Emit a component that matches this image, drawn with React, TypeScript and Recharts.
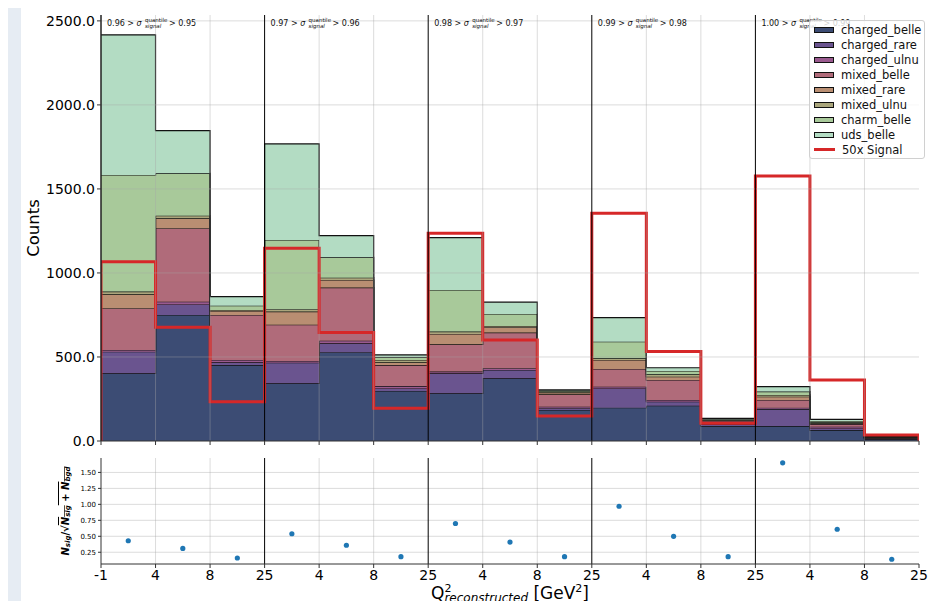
import React from 'react';
import {
    ComposedChart,
    Area,
    Line,
    Scatter,
    XAxis,
    YAxis,
    ReferenceLine,
    Legend,
    Label
} from 'recharts';

// x axis: 15 bins, 5 quantile groups of 3 Q2 bins each
const edgeLabels = ['-1', '4', '8', '25', '4', '8', '25', '4', '8', '25', '4', '8', '25', '4', '8', '25'];
const cutUpper = ['0.96', '0.97', '0.98', '0.99', '1.00'];
const cutLower = ['0.95', '0.96', '0.97', '0.98', '0.99'];

// background components, counts per bin
const chargedBelle = [403, 750, 452, 343, 528, 298, 284, 373, 185, 198, 210, 89, 89, 65, 10];
const chargedRare = [128, 63, 16, 123, 53, 15, 119, 50, 10, 115, 24, 12, 101, 10, 4];
const chargedUlnu = [11, 16, 14, 10, 16, 14, 10, 10, 9, 10, 10, 8, 8, 10, 2];
const mixedBelle = [248, 437, 268, 216, 316, 125, 162, 212, 74, 106, 119, 10, 46, 16, 4];
const mixedRare = [83, 59, 24, 78, 45, 16, 62, 32, 10, 53, 20, 3, 20, 4, 2];
const mixedUlnu = [16, 16, 6, 14, 14, 14, 14, 8, 6, 10, 14, 4, 10, 6, 2];
const charmBelle = [694, 252, 25, 412, 121, 16, 248, 71, 6, 99, 20, 4, 20, 8, 2];
const udsBelle = [834, 254, 54, 572, 129, 14, 311, 70, 4, 143, 19, 5, 29, 10, 2];

const signal50x = [1067, 677, 234, 1147, 645, 195, 1236, 601, 149, 1355, 532, 105, 1577, 363, 36];
const significance = [0.43, 0.31, 0.16, 0.54, 0.36, 0.18, 0.70, 0.41, 0.18, 0.97, 0.50, 0.18, 1.65, 0.61, 0.14];

const countTicks = [0, 500, 1000, 1500, 2000, 2500];
const sigTicks = [0.25, 0.5, 0.75, 1.0, 1.25, 1.5];

const components = [
    { key: 'charged_belle', values: chargedBelle, color: '#3c4c74' },
    { key: 'charged_rare', values: chargedRare, color: '#6a548f' },
    { key: 'charged_ulnu', values: chargedUlnu, color: '#9a5a8f' },
    { key: 'mixed_belle', values: mixedBelle, color: '#b06b7a' },
    { key: 'mixed_rare', values: mixedRare, color: '#b98e72' },
    { key: 'mixed_ulnu', values: mixedUlnu, color: '#aaa67c' },
    { key: 'charm_belle', values: charmBelle, color: '#a8c99a' },
    { key: 'uds_belle', values: udsBelle, color: '#b3dcc3' }
];

const xTicks = edgeLabels.map((_, i) => i);
const groupEdges = [0, 3, 6, 9, 12];
const FONT = '"DejaVu Sans", sans-serif';
const GRID = '#a8a8a8';

// step rows at bin edges; signal rises from 0 at the left and drops to 0 at the right
const binRow = (i: number, x: number, sig: number) => {
    const row: any = { x, signal: sig };
    components.forEach((c) => { row[c.key] = c.values[i]; });
    return row;
};
const histRows: any[] = [binRow(0, 0, 0)];
signal50x.forEach((s, i) => histRows.push(binRow(i, i, s)));
histRows.push(binRow(14, 15, signal50x[14]));
histRows.push(binRow(14, 15, 0));

const sigRows = significance.map((v, i) => ({ x: i + 0.5, y: v }));

const CutLabel = ({ viewBox, idx }: any) => {
    if (!viewBox) return null;
    const x0 = viewBox.x + 6;
    const y0 = viewBox.y + 11;
    return (
        <g fontFamily={FONT} fill="#111">
            <text x={x0} y={y0} fontSize={8}>{cutUpper[idx]} &gt; <tspan fontStyle="italic">σ</tspan></text>
            <text x={x0 + 38} y={y0 - 4} fontSize={5.5}>quantile</text>
            <text x={x0 + 38} y={y0 + 2} fontSize={5.5} fontStyle="italic">signal</text>
            <text x={x0 + 62} y={y0} fontSize={8}>&gt; {cutLower[idx]}</text>
        </g>
    );
};

const LegendBox = () => (
    <div style={{
        background: 'rgba(255,255,255,0.8)',
        border: '1px solid #d0d0d0',
        borderRadius: 3,
        padding: '1px 3px 1px 4px',
        fontFamily: FONT,
        fontSize: 11.5,
        color: '#111',
        whiteSpace: 'nowrap'
    }}>
        {components.map((c) => (
            <div key={c.key} style={{ display: 'flex', alignItems: 'center', height: 15 }}>
                <span style={{ width: 18, height: 4, background: c.color, border: '1.5px solid #111', marginRight: 7, flex: 'none' }} />
                {c.key}
            </div>
        ))}
        <div style={{ display: 'flex', alignItems: 'center', height: 15 }}>
            <span style={{ width: 21, height: 3, background: '#d62728', marginRight: 7, flex: 'none' }} />
            50x Signal
        </div>
    </div>
);

const App: React.FC = () => {
    return (
        <div style={{ position: 'relative', width: 936, height: 609, margin: -8, background: '#e6ecf3', overflow: 'hidden' }}>
            <div style={{ position: 'absolute', left: 21, top: 5, width: 908, height: 604, background: '#fff' }} />

            <div style={{ position: 'absolute', left: 0, top: 0 }}>
                <ComposedChart width={936} height={451} data={histRows} margin={{ top: 15, right: 17, bottom: 0, left: 31 }}>
                    <XAxis
                        type="number"
                        dataKey="x"
                        domain={[0, 15]}
                        ticks={xTicks}
                        tickFormatter={() => ''}
                        tickSize={4}
                        height={10}
                        stroke="#333"
                        allowDataOverflow
                    />
                    <XAxis xAxisId="frame" orientation="top" type="number" domain={[0, 15]} tick={false} tickLine={false} height={0} stroke="#333" />
                    <YAxis
                        type="number"
                        domain={[0, 2535]}
                        ticks={countTicks}
                        tickFormatter={(v) => v.toFixed(1)}
                        tickSize={4}
                        tickMargin={2}
                        width={70}
                        stroke="#333"
                        tick={{ fill: '#000', fontSize: 14, fontFamily: FONT }}
                        allowDataOverflow
                    >
                        <Label
                            content={({ viewBox }: any) => (
                                <text
                                    x={viewBox.x + 2}
                                    y={viewBox.y + viewBox.height / 2}
                                    transform={`rotate(-90, ${viewBox.x + 2}, ${viewBox.y + viewBox.height / 2})`}
                                    textAnchor="middle"
                                    dominantBaseline="central"
                                    fontSize={16.5}
                                    fontFamily={FONT}
                                    fill="#000"
                                >
                                    Counts
                                </text>
                            )}
                        />
                    </YAxis>
                    <YAxis yAxisId="frame" orientation="right" type="number" domain={[0, 1]} tick={false} tickLine={false} width={0} stroke="#333" />

                    {components.map((c) => (
                        <Area
                            key={c.key}
                            type="stepAfter"
                            dataKey={c.key}
                            stackId="bkg"
                            fill={c.color}
                            fillOpacity={1}
                            stroke="#111"
                            strokeWidth={1.2}
                            dot={false}
                            activeDot={false}
                            isAnimationActive={false}
                        />
                    ))}
                    <Line
                        type="stepAfter"
                        dataKey="signal"
                        stroke="#d62728"
                        strokeWidth={3}
                        dot={false}
                        activeDot={false}
                        isAnimationActive={false}
                    />

                    {xTicks.filter((t) => t > 0 && t < 15 && t % 3 !== 0).map((t) => (
                        <ReferenceLine key={`gx${t}`} x={t} stroke={GRID} strokeOpacity={0.4} />
                    ))}
                    {countTicks.filter((t) => t > 0).map((t) => (
                        <ReferenceLine key={`gy${t}`} y={t} stroke={GRID} strokeOpacity={0.4} />
                    ))}
                    {groupEdges.map((g, i) => (
                        <ReferenceLine
                            key={`grp${g}`}
                            x={g}
                            stroke="#000"
                            strokeWidth={1}
                            label={(p: any) => <CutLabel viewBox={p.viewBox} idx={i} />}
                        />
                    ))}

                    <Legend
                        layout="vertical"
                        align="center"
                        verticalAlign="middle"
                        content={() => <LegendBox />}
                        wrapperStyle={{ top: 20, left: 809, width: 'auto', bottom: 'auto', right: 'auto' }}
                    />
                </ComposedChart>
            </div>

            <div style={{ position: 'absolute', left: 0, top: 450 }}>
                <ComposedChart width={936} height={159} data={sigRows} margin={{ top: 8, right: 17, bottom: 0, left: 31 }}>
                    <XAxis
                        type="number"
                        dataKey="x"
                        domain={[0, 15]}
                        ticks={xTicks}
                        tickFormatter={(v) => edgeLabels[v]}
                        tickSize={4}
                        tickMargin={2}
                        height={45}
                        stroke="#333"
                        tick={{ fill: '#000', fontSize: 14, fontFamily: FONT }}
                        interval={0}
                    >
                        <Label
                            content={({ viewBox }: any) => (
                                <text
                                    x={viewBox.x + viewBox.width / 2}
                                    y={viewBox.y + 35}
                                    textAnchor="middle"
                                    fontSize={17}
                                    fontFamily={FONT}
                                    fill="#000"
                                >
                                    Q<tspan dy={-7} fontSize={11}>2</tspan>
                                    <tspan dx={-7} dy={10} fontSize={12} fontStyle="italic">reconstructed</tspan>
                                    <tspan dy={-3}> [GeV</tspan>
                                    <tspan dy={-7} fontSize={11}>2</tspan>
                                    <tspan dy={7}>]</tspan>
                                </text>
                            )}
                        />
                    </XAxis>
                    <XAxis xAxisId="frame" orientation="top" type="number" domain={[0, 15]} tick={false} tickLine={false} height={0} stroke="#777" strokeWidth={1.5} />
                    <YAxis
                        type="number"
                        dataKey="y"
                        domain={[0.066, 1.726]}
                        ticks={sigTicks}
                        tickFormatter={(v) => v.toFixed(2)}
                        tickSize={3}
                        tickMargin={2}
                        width={70}
                        stroke="#333"
                        tick={{ fill: '#000', fontSize: 7, fontFamily: FONT }}
                        allowDataOverflow
                    >
                        <Label
                            content={({ viewBox }: any) => {
                                const cx = viewBox.x + 34;
                                const cy = viewBox.y + viewBox.height / 2;
                                return (
                                    <text
                                        x={cx}
                                        y={cy}
                                        transform={`rotate(-90, ${cx}, ${cy})`}
                                        textAnchor="middle"
                                        dominantBaseline="central"
                                        fontSize={10}
                                        fontWeight="bold"
                                        fontStyle="italic"
                                        fontFamily={FONT}
                                        fill="#000"
                                    >
                                        N<tspan dy={3} fontSize={7}>sig</tspan>
                                        <tspan dy={-3} fontStyle="normal">/√</tspan>
                                        <tspan textDecoration="overline">N</tspan>
                                        <tspan dy={3} fontSize={7} textDecoration="overline">sig</tspan>
                                        <tspan dy={-3} textDecoration="overline"> + N</tspan>
                                        <tspan dy={3} fontSize={7} textDecoration="overline">bgd</tspan>
                                    </text>
                                );
                            }}
                        />
                    </YAxis>
                    <YAxis yAxisId="frame" orientation="right" type="number" domain={[0, 1]} tick={false} tickLine={false} width={0} stroke="#333" />

                    {xTicks.filter((t) => t > 0 && t < 15 && t % 3 !== 0).map((t) => (
                        <ReferenceLine key={`bx${t}`} x={t} stroke={GRID} strokeOpacity={0.4} />
                    ))}
                    {sigTicks.map((t) => (
                        <ReferenceLine key={`by${t}`} y={t} stroke={GRID} strokeOpacity={0.4} />
                    ))}
                    {groupEdges.filter((g) => g > 0).map((g) => (
                        <ReferenceLine key={`bg${g}`} x={g} stroke="#000" strokeWidth={1} />
                    ))}

                    <Scatter
                        dataKey="y"
                        fill="#1f77b4"
                        isAnimationActive={false}
                        shape={(p: any) => <circle cx={p.cx} cy={p.cy} r={2.6} fill="#1f77b4" />}
                    />
                </ComposedChart>
            </div>
        </div>
    );
};

export default App;
